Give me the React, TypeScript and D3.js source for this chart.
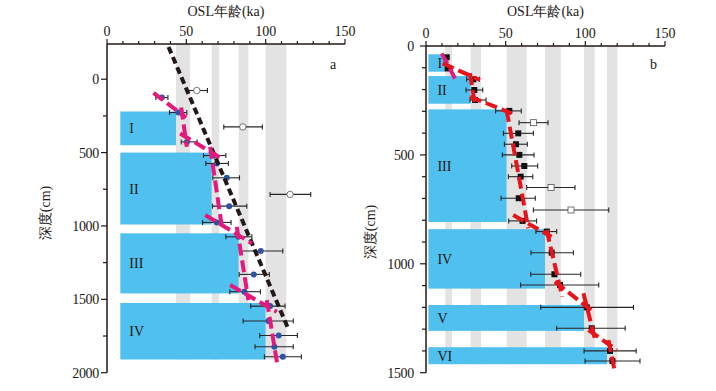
import * as d3 from "d3";

type Pt = [number, number, number, number]; // depth, age, errLo, errHi
type Bar = [number, number, number, string]; // top, bottom, right age, label
type Seg = [number, number][]; // [depth, age]

const ageTicks = [0, 50, 100, 150];

// panel a
const aFilled: Pt[] = [
  [125, 34.6, 30.8, 38.4],
  [227, 45, 39.4, 50.3],
  [427, 50.3, 46.8, 56.8],
  [520, 67, 60.8, 74.9],
  [574, 69.2, 62.3, 76.5],
  [672, 75.5, 66.7, 83.5],
  [865, 77, 66.5, 88.1],
  [976, 69.2, 60.2, 78.2],
  [1074, 82.8, 74.9, 91.3],
  [1171, 96.9, 83.5, 110.8],
  [1330, 92.5, 83.3, 102.3],
  [1448, 86.6, 77.4, 96.7],
  [1546, 102.8, 90.6, 112.2],
  [1648, 101.7, 85.8, 117.4],
  [1746, 108.2, 96.3, 120],
  [1823, 105.5, 93.3, 117.4],
  [1891, 110.8, 99.2, 122.5],
];
const aOpen: Pt[] = [
  [77, 56.6, 50.3, 63.3],
  [325, 85.6, 73.6, 97.9],
  [785, 115.4, 102.8, 128.4],
];
const aBars: Bar[] = [
  [220, 450, 43.5, "I"],
  [500, 990, 66, "II"],
  [1050, 1460, 83, "III"],
  [1525, 1910, 100, "IV"],
];
const aBands: [number, number][] = [
  [43.5, 52.4],
  [66, 70.7],
  [83, 89.1],
  [100, 113],
];
const aTrend: Seg = [
  [-220, 38.8],
  [1687, 113.7],
];
const aBreaks: Seg[] = [
  [[93, 29.3], [261, 49.9]],
  [[193, 46.8], [461, 50.3]],
  [[370, 46.1], [547, 73.4]],
  [[461, 65], [1006, 72.4]],
  [[925, 61.9], [1119, 91.3]],
  [[1006, 81.8], [1505, 89.1]],
  [[1403, 77.6], [1585, 107]],
  [[1505, 100.7], [1948, 107.4]],
];

// panel b
const bFilled: Pt[] = [
  [52, 13, 11.3, 14.2],
  [103, 13.6, 12.5, 14.7],
  [153, 29.7, 25.5, 33.5],
  [202, 30.3, 25.1, 35.6],
  [248, 30.8, 27.6, 37.7],
  [298, 52.3, 43.7, 59.8],
  [401, 57.9, 48.6, 67.4],
  [451, 56.5, 49.2, 63.6],
  [500, 58.6, 47.9, 67.8],
  [551, 61.7, 53.8, 70.1],
  [600, 59.4, 51.7, 67],
  [699, 58.2, 47.1, 68.6],
  [803, 60.6, 51.9, 69.4],
  [852, 75.8, 69, 82],
  [949, 78.9, 65.9, 92.5],
  [1048, 80.6, 65.7, 97.1],
  [1097, 84.1, 59.4, 108.4],
  [1200, 100.9, 72, 130.2],
  [1296, 104, 82, 125],
  [1400, 115.5, 99.2, 131.9],
  [1446, 117, 99.8, 134.3],
];
const bOpen: Pt[] = [
  [352, 67.4, 58.4, 76.6],
  [650, 78.5, 63.2, 93.5],
  [753, 91, 67.4, 114.7],
];
const bBars: Bar[] = [
  [38, 118, 12.1, "I"],
  [138, 265, 28, "II"],
  [291, 808, 50.6, "III"],
  [841, 1114, 74.7, "IV"],
  [1189, 1308, 99.2, "V"],
  [1383, 1461, 113.6, "VI"],
];
const bBands: [number, number][] = [
  [12.1, 16.3],
  [28, 34.5],
  [50.6, 63.2],
  [74.7, 84.6],
  [99.2, 105.9],
  [113.6, 120.1],
];
const bPink: Seg[] = [[[34, 9.9], [149, 18.2]]];
const bBreaks: Seg[] = [
  [[80, 10.5], [156, 33.9]],
  [[125, 27.6], [271, 30.8]],
  [[233, 27.6], [309, 53.8]],
  [[294, 50.6], [837, 64.2]],
  [[776, 54.7], [876, 78.8]],
  [[845, 75.7], [1151, 85.5]],
  [[1082, 80.9], [1220, 104.9]],
  [[1135, 98.8], [1350, 106.2]],
  [[1304, 102], [1396, 119.8]],
  [[1350, 114.5], [1503, 118.7]],
];

const FONT = "'Liberation Serif', 'Times New Roman', serif";
const BLUE = "#50c0ee";
const GREY = "#e3e3e3";

interface PanelProps {
  x0: number;
  x1: number;
  y0: number;
  y1: number;
  depthDomain: [number, number];
  majorStep: number;
  minorStep: number;
  barLeft: number;
  bandBottom: number;
  bars: Bar[];
  bands: [number, number][];
  filled: Pt[];
  open: Pt[];
  square: boolean;
  letter: string;
  labelX: number;
  labelY: number;
  tickEnd: number;
  lines: { seg: Seg; color: string; dash: string }[];
}

function Panel(p: PanelProps) {
  const x = d3.scaleLinear().domain([0, 150]).range([p.x0, p.x1]);
  const y = d3.scaleLinear().domain(p.depthDomain).range([p.y0, p.y1]);
  const dMin = Math.ceil(p.depthDomain[0] / p.minorStep) * p.minorStep;
  const minors = d3.range(dMin, p.depthDomain[1] + 1, p.minorStep);
  const majors = minors.filter((d) => d % p.majorStep === 0);
  const ageMinors = d3.range(0, 151, 10);
  const line = d3
    .line<[number, number]>()
    .x((d) => x(d[1]))
    .y((d) => y(d[0]));
  const topD = p.depthDomain[0];

  const errBar = (d: Pt, i: number) => (
    <g key={i} stroke="#262626" strokeWidth={1.1}>
      <line x1={x(d[2])} x2={x(d[3])} y1={y(d[0])} y2={y(d[0])} />
      <line x1={x(d[2])} x2={x(d[2])} y1={y(d[0]) - 2.5} y2={y(d[0]) + 2.5} />
      <line x1={x(d[3])} x2={x(d[3])} y1={y(d[0]) - 2.5} y2={y(d[0]) + 2.5} />
    </g>
  );

  return (
    <g fontFamily={FONT} fontSize={14} fill="#231815">
      {p.bands.map((b, i) => (
        <rect key={i} x={x(b[0])} width={x(b[1]) - x(b[0])} y={y(topD)} height={y(p.bandBottom) - y(topD)} fill={GREY} />
      ))}
      {p.bars.map((b, i) => (
        <g key={i}>
          <rect x={x(p.barLeft)} width={x(b[2]) - x(p.barLeft)} y={y(b[0])} height={y(b[1]) - y(b[0])} fill={BLUE} />
          <text x={x(p.barLeft) + 9} y={(y(b[0]) + y(b[1])) / 2 + 5}>{b[3]}</text>
        </g>
      ))}
      {p.filled.map(errBar)}
      {p.open.map(errBar)}
      {p.filled.map((d, i) =>
        p.square ? (
          <rect key={i} x={x(d[1]) - 3} y={y(d[0]) - 3} width={6} height={6} fill="#111" />
        ) : (
          <circle key={i} cx={x(d[1])} cy={y(d[0])} r={3} fill="#2f52a3" />
        )
      )}
      {p.open.map((d, i) =>
        p.square ? (
          <rect key={i} x={x(d[1]) - 3} y={y(d[0]) - 3} width={6} height={6} fill="#fff" stroke="#555" strokeWidth={0.8} />
        ) : (
          <circle key={i} cx={x(d[1])} cy={y(d[0])} r={3.2} fill="#fff" stroke="#555" strokeWidth={0.8} />
        )
      )}
      {p.lines.map((l, i) => (
        <path key={i} d={line(l.seg) || ""} fill="none" stroke={l.color} strokeWidth={4} strokeDasharray={l.dash} />
      ))}

      {/* axes */}
      <line x1={p.x0} x2={p.x1} y1={p.y0} y2={p.y0} stroke="#231815" strokeWidth={1.5} />
      <line x1={p.x0} x2={p.x0} y1={p.y0} y2={p.y1} stroke="#231815" strokeWidth={1.5} />
      {ageMinors.map((a) => (
        <line key={a} x1={x(a)} x2={x(a)} y1={p.y0} y2={p.y0 - (a % 50 === 0 ? 5 : 3)} stroke="#231815" strokeWidth={1.2} />
      ))}
      {ageTicks.map((a) => (
        <text key={a} x={x(a)} y={p.y0 - 8} textAnchor="middle">{a}</text>
      ))}
      {minors.map((d) => (
        <line key={d} x1={p.x0} x2={p.x0 - (d % p.majorStep === 0 ? 6 : 4)} y1={y(d)} y2={y(d)} stroke="#231815" strokeWidth={1.2} />
      ))}
      {majors.map((d) => (
        <text key={d} x={p.tickEnd} y={y(d) + 5} textAnchor="end" letterSpacing={-0.3}>{d}</text>
      ))}
      <text x={(p.x0 + p.x1) / 2} y={16} textAnchor="middle">OSL年龄(ka)</text>
      <text transform={`translate(${p.labelX},${p.labelY}) rotate(-90)`} textAnchor="middle">深度(cm)</text>
      <text x={p.x1 - 15} y={69}>{p.letter}</text>
    </g>
  );
}

export default function App() {
  return (
    <div style={{ position: "absolute", left: 0, top: 0 }}>
      <svg width={716} height={391} style={{ display: "block", background: "#fff" }}>
        <Panel
          x0={107}
          x1={345}
          y0={44}
          y1={372.7}
          depthDomain={[-240, 2000]}
          majorStep={500}
          minorStep={250}
          barLeft={8.4}
          bandBottom={1910}
          bars={aBars}
          bands={aBands}
          filled={aFilled}
          open={aOpen}
          square={false}
          letter="a"
          labelX={50}
          labelY={213}
          tickEnd={99}
          lines={[
            { seg: aTrend, color: "#231815", dash: "7 4" },
            ...aBreaks.map((s) => ({ seg: s, color: "#e4197c", dash: "12 5" })),
          ]}
        />
        <Panel
          x0={426}
          x1={665}
          y0={46}
          y1={372.7}
          depthDomain={[0, 1500]}
          majorStep={500}
          minorStep={100}
          barLeft={1.5}
          bandBottom={1461}
          bars={bBars}
          bands={bBands}
          filled={bFilled}
          open={bOpen}
          square={true}
          letter="b"
          labelX={375}
          labelY={232}
          tickEnd={414}
          lines={[
            ...bPink.map((s) => ({ seg: s, color: "#e4197c", dash: "12 5" })),
            ...bBreaks.map((s) => ({ seg: s, color: "#e8141b", dash: "12 5" })),
          ]}
        />
      </svg>
    </div>
  );
}
